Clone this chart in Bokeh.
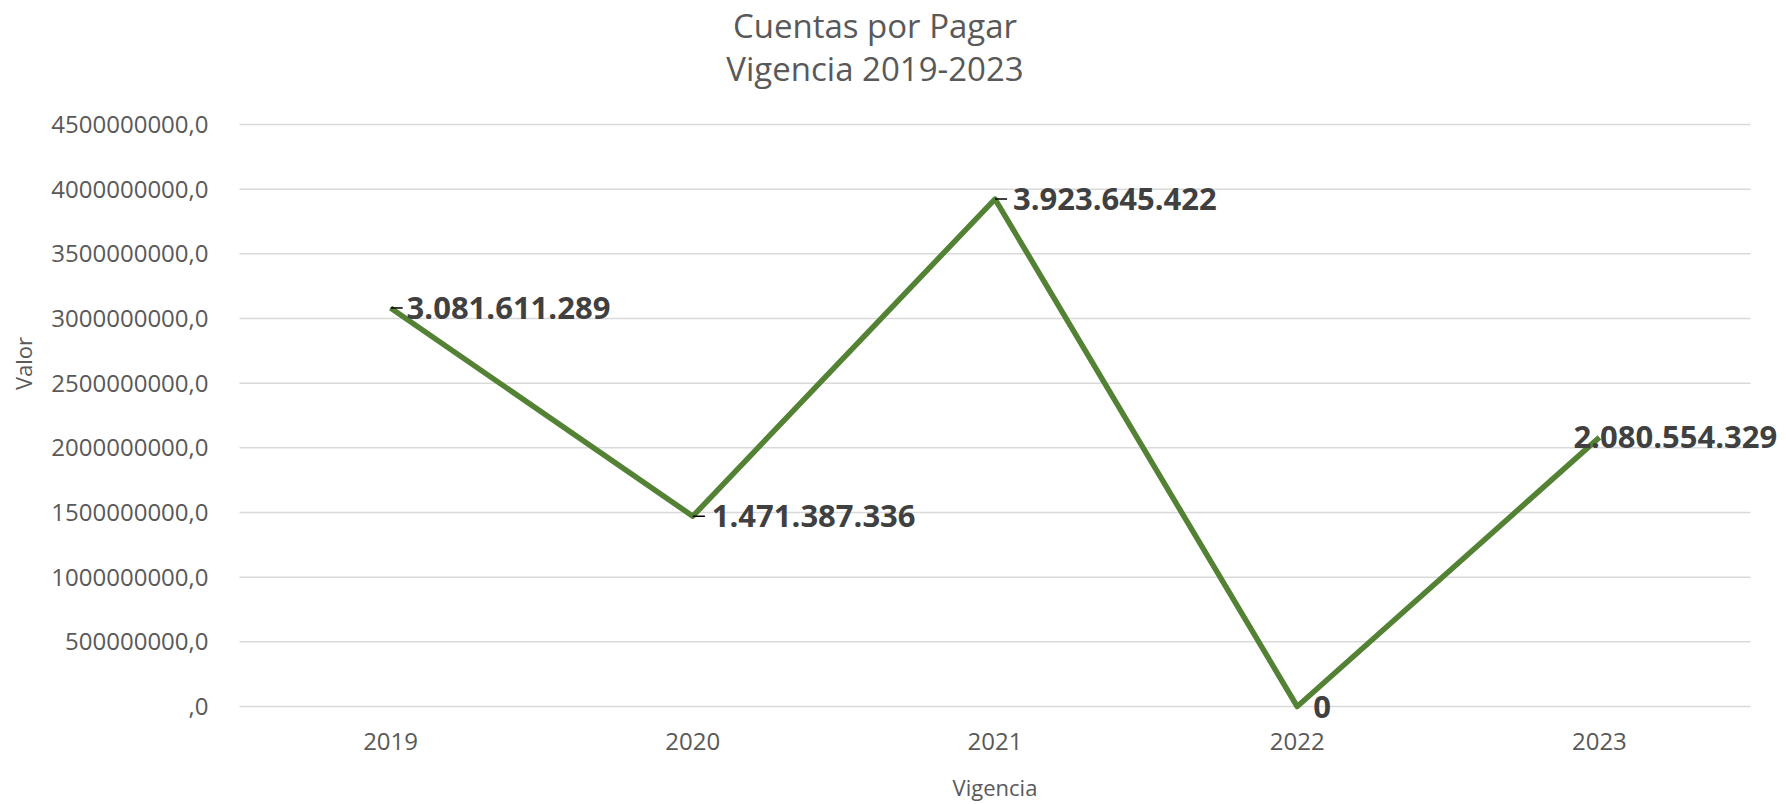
from bokeh.plotting import figure
from bokeh.models import (ColumnDataSource, Range1d, FixedTicker,
                          LabelSet, Label, CDSView, IndexFilter)
from bokeh.core.properties import value
from bokeh.embed import file_html
from bokeh.resources import INLINE

# ---- data ----
years = ["2019", "2020", "2021", "2022", "2023"]
values = [3081611289, 1471387336, 3923645422, 0, 2080554329]
y_ticks = [0, 500000000, 1000000000, 1500000000, 2000000000,
           2500000000, 3000000000, 3500000000, 4000000000, 4500000000]
y_tick_labels = [",0", "500000000,0", "1000000000,0", "1500000000,0",
                 "2000000000,0", "2500000000,0", "3000000000,0",
                 "3500000000,0", "4000000000,0", "4500000000,0"]
title_lines = ["Cuentas por Pagar", "Vigencia 2019-2023"]
x_title = "Vigencia"
y_title = "Valor"


def fmt(v):
    return f"{v:,}".replace(",", ".")


n = len(years)
xpos = list(range(n))
labels = [fmt(v) for v in values]
label_dx = [16, 19, 18, 16, -26]

src = ColumnDataSource(dict(x=xpos, y=values, lab=labels, dx=label_dx,
                            xl=[x + 0.04 for x in xpos]))

FONT = "Open Sans"
GREY = "#595959"

PX_PER_CAT = 302.2          # plotting-area pixels per category
EXT = 28 / PX_PER_CAT       # extra frame room each side for the labels
PX_PER_VAL = 582 / 4.5e9    # pixels per unit of value
TOP_PX = 124                # room above the top gridline (title area)
BOT_PX = 20                 # room below the zero line

y_max = max(y_ticks)
p = figure(x_range=Range1d(-0.5 - EXT, n - 0.5 + EXT),
           y_range=Range1d(-BOT_PX / PX_PER_VAL, y_max + TOP_PX / PX_PER_VAL),
           frame_width=1567, frame_height=582 + TOP_PX + BOT_PX,
           min_border_left=211, min_border_right=0,
           min_border_top=0, min_border_bottom=60,
           output_backend="svg", toolbar_location=None)

p.outline_line_color = None
p.background_fill_color = "white"
p.border_fill_color = "white"

# two-line chart title, placed over the category area
p.add_layout(Label(x=(n - 1) / 2, y=y_max + 99 / PX_PER_VAL,
                   text=title_lines[0], x_offset=-120,
                   text_font=FONT, text_font_size="33px",
                   text_color=GREY, text_align="center",
                   text_baseline="middle"))
p.add_layout(Label(x=(n - 1) / 2, y=y_max + 56 / PX_PER_VAL,
                   text=title_lines[1], x_offset=-120,
                   text_font=FONT, text_font_size="33px",
                   text_color=GREY, text_align="center",
                   text_baseline="middle"))

# axes
p.yaxis.ticker = FixedTicker(ticks=y_ticks)
p.yaxis.major_label_overrides = {t: s for t, s in zip(y_ticks, y_tick_labels)}
p.xaxis.ticker = FixedTicker(ticks=xpos)
p.xaxis.major_label_overrides = {i: y for i, y in zip(xpos, years)}
for ax in (p.xaxis[0], p.yaxis[0]):
    ax.axis_line_color = None
    ax.major_tick_line_color = None
    ax.minor_tick_line_color = None
    ax.major_tick_in = 0
    ax.major_tick_out = 0
    ax.major_label_text_font = FONT
    ax.major_label_text_font_size = "24px"
    ax.major_label_text_color = GREY
    ax.axis_label_text_font = FONT
    ax.axis_label_text_font_size = "22px"
    ax.axis_label_text_font_style = "normal"
    ax.axis_label_text_color = GREY
p.yaxis.major_label_standoff = 3
p.yaxis.axis_label = y_title
p.yaxis.axis_label_standoff = 10
p.xaxis.major_label_standoff = 6
p.xaxis.axis_label = x_title
p.xaxis.axis_label_standoff = 19

# gridlines limited to the category area
p.xgrid.grid_line_color = None
p.ygrid.grid_line_color = None
p.segment(x0=[-0.5] * len(y_ticks), x1=[n - 0.5] * len(y_ticks),
          y0=y_ticks, y1=y_ticks, line_color="#d9d9d9", line_width=1.5)

# series line
p.line("x", "y", source=src, line_color="#548235", line_width=5.5,
       line_join="round")

# leader lines
p.segment(x0="x", y0="y", x1="xl", y1="y",
          source=src, view=CDSView(filter=IndexFilter([0, 1, 2])),
          line_color="#000000", line_width=1.5)

# data labels
p.add_layout(LabelSet(x="x", y="y", text="lab", source=src,
                      x_offset="dx", y_offset=0,
                      text_font=value(FONT), text_font_size="31px",
                      text_font_style="bold", text_color="#404040",
                      text_align="left", text_baseline="middle"))

open("out.html", "w").write(file_html(p, INLINE))
